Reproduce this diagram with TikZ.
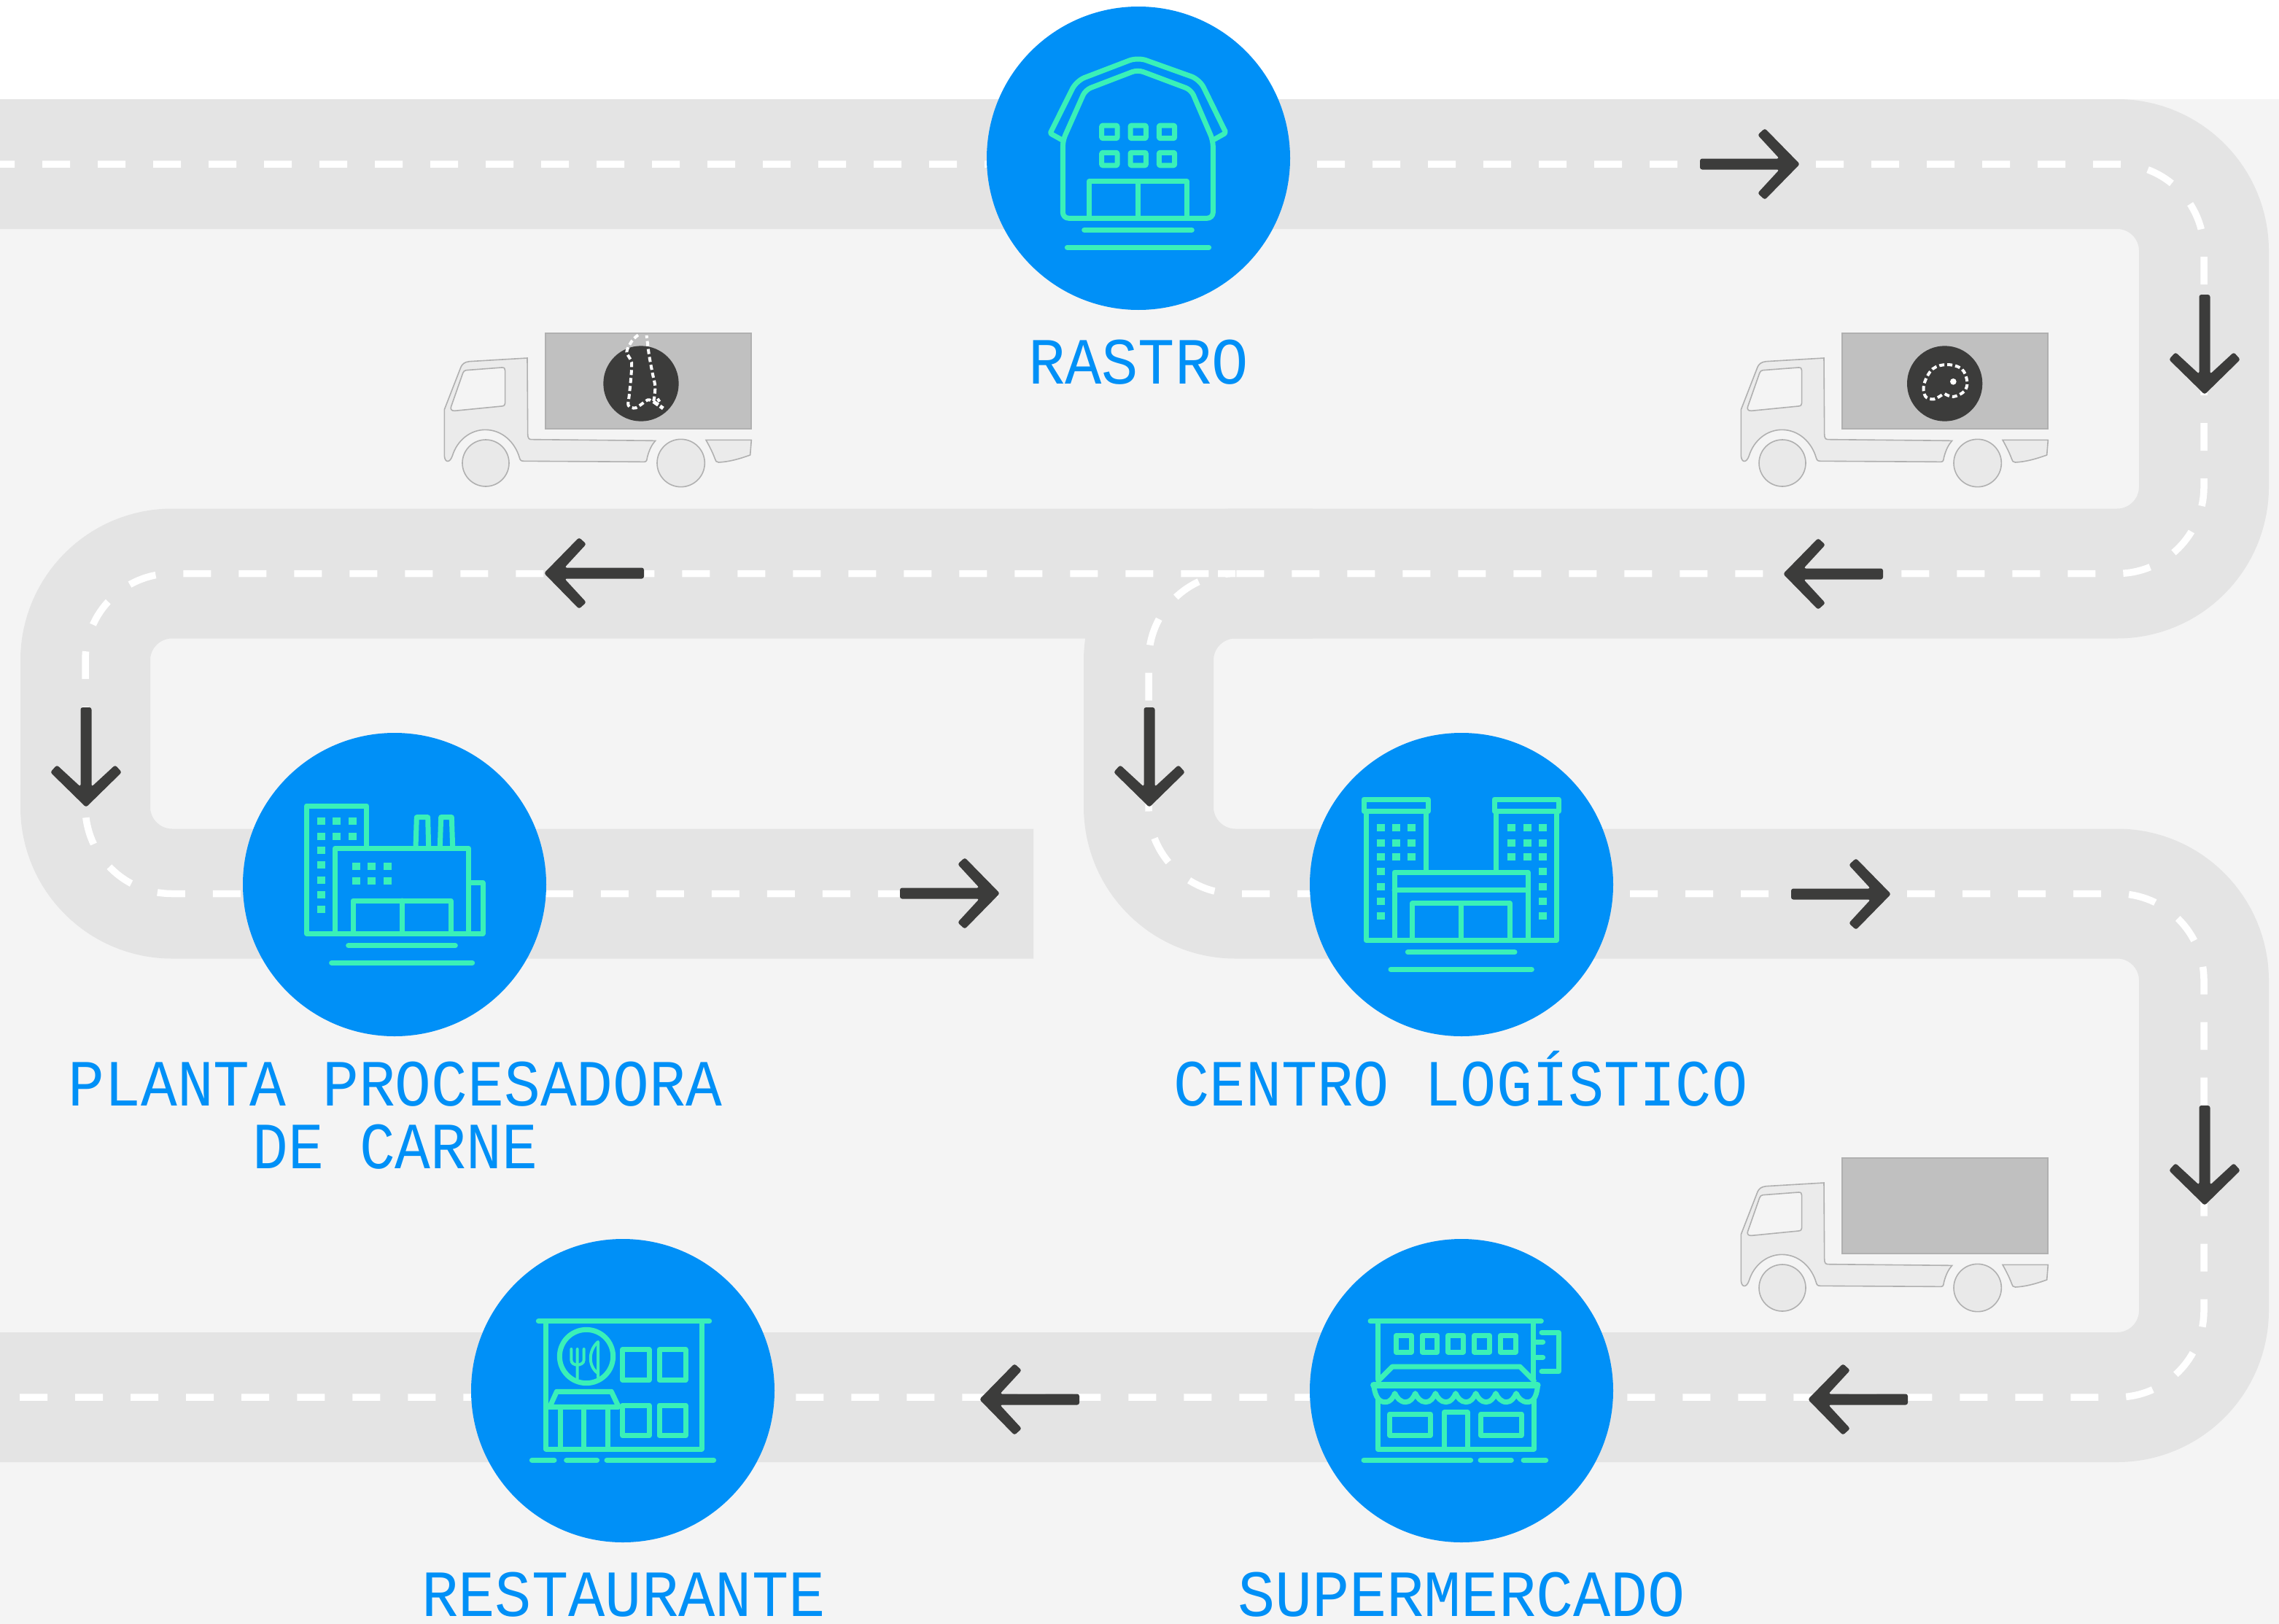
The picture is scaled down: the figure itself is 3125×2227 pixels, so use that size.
\documentclass[tikz,border=0pt]{standalone}
\usepackage{fontspec}
\newfontfamily\lbfont{Liberation Mono}
\definecolor{bgc}{HTML}{F4F4F4}
\definecolor{roadc}{HTML}{E4E4E4}
\definecolor{ballc}{HTML}{0090F7}
\definecolor{iconc}{HTML}{3AF0B8}
\definecolor{darkc}{HTML}{3C3C3B}
\definecolor{truckline}{HTML}{B0B0B0}
\definecolor{truckfill}{HTML}{EBEBEB}
\definecolor{boxfill}{HTML}{C0C0C0}
\newcommand{\lab}[2][1]{\scalebox{#1}[1.09]{#2}}
\newcommand{\sq}[2]{\fill[iconc] (#1,#2) rectangle ++(33,30);}
\newcommand{\roadarrow}[3]{\begin{scope}[shift={(#1,#2)},rotate=#3]
 \fill[darkc,rounded corners=3pt] (0,0) -- (-48,-49) -- (-58,-40) -- (-28,-7.5) -- (-137,-7.5) -- (-137,7.5) -- (-28,7.5) -- (-58,40) -- (-48,49) -- cycle;
\end{scope}}
\newcommand{\truck}[2]{\begin{scope}[shift={(#1,#2)},scale=1/3]
 \fill[boxfill,draw=truckline,line width=2pt] (497,82) rectangle (1344,475);
 \draw[tk] (423,183) -- (185,197) .. controls (165,199) and (155,208) .. (150,220) -- (82,395) -- (82,585) .. controls (84,615) and (105,615) .. (115,585) .. controls (135,520) and (190,478) .. (250,478) .. controls (320,478) and (372,530) .. (390,590) .. controls (394,605) and (398,607) .. (410,607) -- (905,610) .. controls (915,610) and (915,600) .. (917,590) .. controls (925,560) and (935,540) .. (950,523) -- (440,518) .. controls (428,518) and (425,510) .. (425,495) -- cycle;
 \draw[tkwin] (172,233) -- (318,222) .. controls (328,221) and (332,226) .. (332,235) -- (332,368) .. controls (332,376) and (328,380) .. (318,381) -- (125,400) .. controls (110,401) and (106,392) .. (110,382) -- (158,245) .. controls (161,237) and (165,234) .. (172,233) -- cycle;
 \draw[tk,fill=wheelc] (252,615) circle (96);
 \draw[tk,fill=wheelc] (1055,615) circle (98);
 \draw[tk] (1158,520) -- (1345,520) -- (1340,582) .. controls (1290,600) and (1250,610) .. (1210,612) .. controls (1200,612) and (1198,606) .. (1195,597) .. controls (1185,570) and (1172,545) .. (1158,520) -- cycle;
\end{scope}}
\definecolor{wheelc}{HTML}{E9E9E9}
\tikzset{
 road/.style={roadc,line width=178pt,rounded corners=119pt,line cap=butt},
 lane/.style={white,line width=9.5pt,rounded corners=119pt,dash pattern=on 38pt off 38pt},
 siteball/.style={circle,fill=ballc,minimum size=416pt,inner sep=0pt},
 sitetext/.style={anchor=base,text=ballc,inner sep=0pt,align=center,font=\lbfont\fontsize{83}{86}\selectfont},
 ic/.style={iconc,line width=7pt,line join=round,line cap=round},
 tk/.style={draw=truckline,fill=truckfill,line width=1.6pt},
 tkwin/.style={draw=truckline,fill=bgc,line width=1.6pt},
 meat/.style={white,line width=4pt,dash pattern=on 7pt off 4pt}
}
\begin{document}
\begin{tikzpicture}[x=1pt,y=-1pt]
\useasboundingbox (0,0) rectangle (3125,2227);
\fill[white] (0,0) rectangle (3125,2227);
\fill[bgc] (0,136) rectangle (3125,2227);
% roads
\draw[road] (0,225) -- (3022,225) -- (3022,786.5) -- (117,786.5) -- (117,1225.5) -- (1417,1225.5);
\draw[road] (1800,786.5) -- (1575,786.5) -- (1575,1225.5) -- (3022,1225.5) -- (3022,1916) -- (0,1916);
% lanes
\draw[lane,dash phase=18pt] (0,225) -- (3022,225) -- (3022,786.5) -- (117,786.5) -- (117,1225.5) -- (1369,1225.5);
\draw[lane] (1670,786.5) -- (1575,786.5) -- (1575,1225.5) -- (3022,1225.5) -- (3022,1916) -- (0,1916);
% arrows
\roadarrow{2468}{225}{0}
\roadarrow{3023}{541}{-90}
\roadarrow{2445}{787}{180}
\roadarrow{746}{786}{180}
\roadarrow{118}{1107}{-90}
\roadarrow{1371}{1225}{0}
\roadarrow{1576}{1107}{-90}
\roadarrow{2593}{1226}{0}
\roadarrow{3023}{1653}{-90}
\roadarrow{2479}{1919}{180}
\roadarrow{1343}{1919}{180}
% trucks
\truck{582}{430}
\truck{2360}{430}
\truck{2360}{1561}
% cargo truck 1
\begin{scope}[shift={(590,430)},scale=1/3]
 \fill[darkc] (867,288) circle (155);
 \draw[meat] plot[smooth,tension=0.5] coordinates {(855,88) (830,112) (808,158) (828,200) (825,270) (818,340) (815,378) (845,388) (895,355) (918,360) (925,300) (915,250) (900,170) (890,90)};
 \draw[white,line width=5pt,dash pattern=on 8pt off 3pt] (918,362) -- (958,390);
 \draw[white,line width=4pt,dash pattern=on 5pt off 2pt] (935,350) -- (945,365);
\end{scope}
% cargo truck 2
\begin{scope}[shift={(2360,430)},scale=1/3]
 \fill[darkc] (920,288) circle (155);
 \draw[meat] plot[smooth,tension=0.6] coordinates {(920,330) (955,342) (1000,320) (1012,280) (990,228) (930,210) (870,228) (835,290) (840,340) (875,352) (912,332)};
 \fill[white] (955,280) circle (13);
\end{scope}
% balls
\node[siteball] (rastro) at (1561,217) {};
\node[siteball] (planta) at (541,1213) {};
\node[siteball] (centro) at (2004,1213) {};
\node[siteball] (rest) at (854,1907) {};
\node[siteball] (super) at (2004,1907) {};
% labels
\node[sitetext] (rastrolab) at (1561,526) {\lab[1.01]{RASTRO}};
\node[sitetext] (plantalab) at (542,1602) {\lab{PLANTA PROCESADORA}\\[0pt]\lab[0.98]{DE CARNE}};
\node[sitetext] (centrolab) at (2003,1516) {\lab[0.987]{CENTRO LOGÍSTICO}};
\node[sitetext] (restlab) at (855,2216) {\lab[1.01]{RESTAURANTE}};
\node[sitetext] (superlab) at (2004,2216) {\lab[1.027]{SUPERMERCADO}};
% barn
\begin{scope}[shift={(1300,0)},xscale=1/3,yscale=1/2.8]
 \draw[ic] (470,538) [rounded corners=2pt] -- (420,512) [rounded corners=12pt] -- (528,310) -- (780,220) -- (1035,305) [rounded corners=2pt] -- (1143,510) -- (1090,538);
 \draw[ic,rounded corners=8pt] (472,838) -- (472,540) -- (565,345) -- (780,268) -- (1000,345) -- (1090,540) -- (1090,838) -- cycle;
 \foreach \xx in {632,750,868}{\foreach \yy in {482,586}{\draw[ic,rounded corners=1pt] (\xx,\yy) rectangle ++(64,49);}}
 \draw[ic] (580,838) -- (580,697) -- (983,697) -- (983,838) (782,697) -- (782,838);
 \draw[ic] (560,883) -- (1003,883) (490,950) -- (1073,950);
\end{scope}
% factory
\begin{scope}[shift={(380,1060)},scale=1/3]
 \draw[ic] (368,310) -- (368,135) -- (121,135) -- (121,660) -- (846,660) -- (846,452) -- (788,452);
 \draw[ic] (238,660) -- (238,310) -- (788,310) -- (788,660);
 \draw[ic] (570,305) -- (574,182) -- (620,182) -- (623,305) (670,305) -- (674,182) -- (718,182) -- (722,305);
 \draw[ic] (312,660) -- (312,525) -- (714,525) -- (714,660) (513,525) -- (513,660);
 \draw[ic] (293,710) -- (733,710) (224,781) -- (803,781);
 \foreach \xx in {165,228,294}{\foreach \yy in {183,246}{\sq{\xx}{\yy}}}
 \foreach \yy in {303,363,426,486,546}{\sq{165}{\yy}}
 \foreach \xx in {309,372,438}{\foreach \yy in {369,429}{\sq{\xx}{\yy}}}
\end{scope}
% logistics centre
\begin{scope}[shift={(1840,1060)},scale=1/3]
 \draw[ic] (90,108) rectangle (355,158) (627,108) rectangle (892,158);
 \draw[ic] (99,158) -- (99,688) -- (883,688) -- (883,158) (346,158) -- (346,400) (635,158) -- (635,400);
 \draw[ic] (216,688) -- (216,408) -- (766,408) -- (766,688) (216,480) -- (766,480);
 \draw[ic] (290,688) -- (290,536) -- (692,536) -- (692,688) (491,536) -- (491,688);
 \draw[ic] (271,737) -- (711,737) (201,808) -- (781,808);
 \foreach \xx in {144,207,270,681,747,810}{\foreach \yy in {210,273,330}{\sq{\xx}{\yy}}}
 \foreach \xx in {144,810}{\foreach \yy in {390,453,513,573}{\sq{\xx}{\yy}}}
\end{scope}
% restaurant
\begin{scope}[shift={(700,1780)},scale=1/3]
 \draw[ic] (115,95) -- (818,95) (146,95) -- (146,621) -- (786,621) -- (786,95);
 \draw[ic] (312,240) circle (110);
 \draw[iconc,line width=4pt,line cap=round] (275,210) -- (275,332) (250,210) -- (250,255) .. controls (250,268) and (262,275) .. (275,275) .. controls (288,275) and (302,268) .. (302,255) -- (302,210);
 \draw[iconc,line width=4pt,line cap=round,line join=round] (360,325) -- (360,180) .. controls (320,215) and (318,280) .. (360,310);
 \draw[ic] (461,212) rectangle (570,337) (612,212) rectangle (720,337) (461,441) rectangle (570,566) (612,441) rectangle (720,566);
 \draw[ic] (165,440) -- (190,385) -- (415,385) -- (445,448) -- (146,448);
 \draw[ic] (204,448) -- (204,621) (302,448) -- (302,621) (400,448) -- (400,621);
 \draw[ic] (88,667) -- (180,667) (230,667) -- (356,667) (396,667) -- (836,667);
\end{scope}
% supermarket
\begin{scope}[shift={(1860,1780)},scale=1/3]
 \draw[ic] (57,95) -- (760,95) (88,95) -- (88,335) (728,95) -- (728,335);
 \foreach \xx in {163,270,377,485,592}{\draw[ic] (\xx,154) rectangle ++(62,68);}
 \draw[ic] (762,141) -- (832,141) -- (832,302) -- (762,302) (728,181) -- (767,181) (728,244) -- (767,244);
 \draw[ic] (90,340) -- (148,282) -- (672,282) -- (730,340);
 \draw[ic,line width=8.5pt] (70,358) -- (745,358);
 \draw[ic] (72,365) .. controls (78,410) and (95,428) .. (118,428) .. controls (140,428) and (150,410) .. (158,392)
  .. controls (166,410) and (180,428) .. (202,428) .. controls (222,428) and (234,410) .. (242,392)
  .. controls (250,410) and (264,428) .. (285,428) .. controls (305,428) and (317,410) .. (325,392)
  .. controls (333,410) and (347,428) .. (368,428) .. controls (388,428) and (400,410) .. (408,392)
  .. controls (416,410) and (430,428) .. (451,428) .. controls (471,428) and (483,410) .. (491,392)
  .. controls (499,410) and (513,428) .. (533,428) .. controls (553,428) and (565,410) .. (573,392)
  .. controls (581,410) and (595,428) .. (617,428) .. controls (637,428) and (649,410) .. (657,392)
  .. controls (665,410) and (680,428) .. (703,428) .. controls (725,428) and (740,410) .. (745,365);
 \draw[ic] (88,420) -- (88,621) -- (730,621) -- (730,420);
 \draw[ic] (137,477) rectangle (304,565) (512,477) rectangle (678,565);
 \draw[ic] (361,621) -- (361,470) -- (457,470) -- (457,621);
 \draw[ic] (30,667) -- (470,667) (510,667) -- (637,667) (687,667) -- (779,667);
\end{scope}
\end{tikzpicture}
\end{document}
